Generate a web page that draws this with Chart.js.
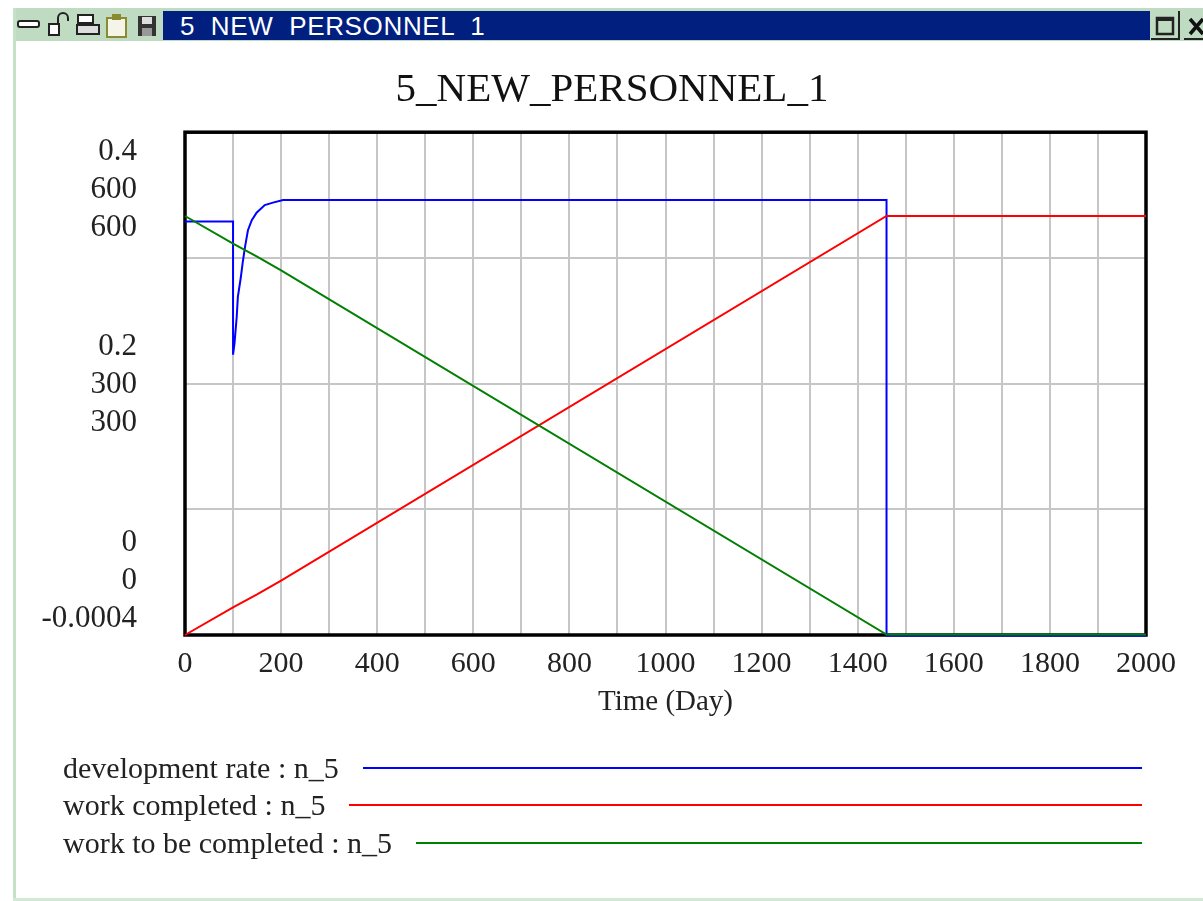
<!DOCTYPE html>
<html>
<head>
<meta charset="utf-8">
<title>5_NEW_PERSONNEL_1</title>
<script src="https://cdn.jsdelivr.net/npm/chart.js@4/dist/chart.umd.min.js"></script>
<style>
html, body { margin: 0; padding: 0; background: #fff; overflow: hidden; }
#janela { position: relative; width: 1203px; height: 901px; overflow: hidden; }
#faixa { position: absolute; left: 13px; top: 8px; width: 1190px; height: 33px; background: #bfdcc2; }
#bordaEsq { position: absolute; left: 13px; top: 8px; width: 3px; height: 893px; background: #c4e0c6; }
#bordaBaixo { position: absolute; left: 13px; top: 898px; width: 1190px; height: 3px; background: #d4e8d6; }
#barra { position: absolute; left: 163px; top: 11px; width: 987px; height: 29px; background: #001f7f; color: #fff;
  font: 26px "Liberation Sans", sans-serif; line-height: 31px; white-space: pre; text-indent: 17px; letter-spacing: 0.65px; }
#icones { position: absolute; left: 16px; top: 11px; }
.botao { position: absolute; top: 11px; height: 29px; background: #bfdcc2; border-right: 2px solid #222; border-bottom: 2px solid #222; box-sizing: border-box; }
canvas { position: absolute; left: 0; top: 0; }
#legenda { position: absolute; left: 63px; top: 749px; width: 1079px; font: 30px "Liberation Serif", serif; color: #222; }
.linha { display: flex; align-items: center; height: 37.5px; white-space: nowrap; }
.linha i { flex: 1; height: 2px; margin-left: 24px; }
</style>
</head>
<body>
<div id="janela">
  <canvas id="grafico" width="1203" height="901"></canvas>
  <div id="faixa"></div>
  <div id="bordaEsq"></div>
  <div id="bordaBaixo"></div>
  <svg id="icones" width="147" height="30" viewBox="0 0 147 30">
    <rect x="2" y="10" width="21" height="6" rx="2" fill="#fff" stroke="#222" stroke-width="2"/>
    <rect x="33" y="13" width="10" height="11" fill="#fff" stroke="#222" stroke-width="2"/>
    <path d="M42 13 V7 a5 5 0 0 1 10 0 V10" fill="none" stroke="#222" stroke-width="2"/>
    <rect x="62" y="4" width="15" height="8" fill="#fff" stroke="#222" stroke-width="2"/>
    <rect x="61" y="14" width="22" height="9" fill="#ddd" stroke="#222" stroke-width="2"/>
    <rect x="91" y="7" width="19" height="19" fill="#f4f4e8" stroke="#8a8a30" stroke-width="2"/>
    <rect x="96" y="3" width="9" height="6" fill="#8a8a30"/>
    <rect x="122" y="5" width="18" height="20" fill="#333"/>
    <rect x="126" y="6" width="10" height="7" fill="#ddd"/>
    <rect x="126" y="17" width="10" height="8" fill="#999"/>
  </svg>
  <div id="barra">5  NEW  PERSONNEL  1</div>
  <div class="botao" style="left:1151px;width:29px">
    <svg width="27" height="27"><rect x="6" y="7" width="16" height="16" fill="none" stroke="#222" stroke-width="2.5"/><rect x="6" y="7" width="16" height="3" fill="#222"/></svg>
  </div>
  <div class="botao" style="left:1184px;width:29px">
    <svg width="27" height="27"><path d="M6 8 L19 23 M19 8 L6 23" stroke="#111" stroke-width="3.5"/></svg>
  </div>
  <div id="legenda"></div>
</div>

<script>
// Dados
const tempoTaxa = [0, 100, 100, 103, 107.6, 110, 116, 120, 125, 131, 139, 149, 166, 183, 204, 1460, 1460, 2000];
const taxaDesenvolvimento = [0.329, 0.329, 0.223, 0.232, 0.253, 0.269, 0.284, 0.296, 0.309, 0.322, 0.330, 0.336, 0.342, 0.344, 0.346, 0.346, -0.0004, -0.0004];
const tempoTrabalho = [0, 100, 150, 200, 1460, 2000];
const trabalhoCompleto = [0, 33, 48.5, 65, 500, 500];
const trabalhoRestante = [500, 467, 451.5, 435, 0.5, 0.5];

const rotulosY = ['0.4', '600', '600', '0.2', '300', '300', '0', '0', '-0.0004'];
const nomesSeries = ['development rate : n_5', 'work completed : n_5', 'work to be completed : n_5'];

const tituloGrafico = '5_NEW_PERSONNEL_1';
const tituloEixoX = 'Time (Day)';

// Altura de cada linha de rótulo no eixo (fração da área do gráfico)
const posicoesRotulosY = [0.96, 0.885, 0.809, 0.573, 0.497, 0.421, 0.183, 0.107, 0.032];

const FONTE = '"Liberation Serif", serif';
const COR_GRADE = '#c6c6c6';

function montarPontos(xs, ys) {
    return xs.map((x, i) => ({ x: x, y: ys[i] }));
}

// Moldura preta em volta da área do gráfico
const molduraPlugin = {
    id: 'moldura',
    afterLayout(chart) {
        // o título original fica centrado um pouco à esquerda do gráfico
        chart.titleBlock.left = 78;
    },
    beforeDatasetsDraw(chart) {
        const { ctx, chartArea: a } = chart;
        ctx.save();
        ctx.strokeStyle = '#000';
        ctx.lineWidth = 3.5;
        ctx.strokeRect(a.left, a.top, a.right - a.left, a.bottom - a.top);
        ctx.restore();
    }
};

const grafico = new Chart(document.getElementById('grafico').getContext('2d'), {
    type: 'line',
    data: {
        datasets: [
            { label: nomesSeries[0], data: montarPontos(tempoTaxa, taxaDesenvolvimento), borderColor: '#0000ff', yAxisID: 'yTaxa', order: 3 },
            { label: nomesSeries[1], data: montarPontos(tempoTrabalho, trabalhoCompleto), borderColor: '#ff0000', yAxisID: 'yTrabalho', order: 2 },
            { label: nomesSeries[2], data: montarPontos(tempoTrabalho, trabalhoRestante), borderColor: '#008000', yAxisID: 'yTrabalho', order: 1 }
        ]
    },
    options: {
        responsive: false,
        animation: false,
        parsing: false,
        elements: { point: { radius: 0 }, line: { borderWidth: 2, tension: 0 } },
        clip: false,
        layout: { padding: { left: 0, right: 57, top: 0, bottom: 181 } },
        plugins: {
            legend: { display: false },
            tooltip: { enabled: false },
            title: {
                display: true,
                text: tituloGrafico,
                color: '#111',
                font: { family: FONTE, size: 41, weight: 'normal' },
                padding: { top: 66, bottom: 17 }
            }
        },
        scales: {
            x: {
                type: 'linear',
                min: 0,
                max: 2000,
                grid: { color: COR_GRADE, lineWidth: 2, drawTicks: false },
                border: { display: false },
                ticks: {
                    stepSize: 100,
                    autoSkip: false,
                    maxRotation: 0,
                    padding: 11,
                    color: '#222',
                    font: { family: FONTE, size: 30 },
                    callback: v => (v % 200 === 0 ? String(v) : '')
                },
                title: {
                    display: true,
                    text: tituloEixoX,
                    color: '#222',
                    font: { family: FONTE, size: 29 },
                    padding: { top: 0, bottom: 0 }
                },
                afterFit(escala) { escala.height = 85; }
            },
            // eixo só com os rótulos de texto
            yRotulos: {
                type: 'linear',
                position: 'left',
                min: 0,
                max: 1,
                grid: { display: false },
                border: { display: false },
                afterBuildTicks(escala) {
                    escala.ticks = posicoesRotulosY.map(v => ({ value: v }));
                },
                ticks: {
                    autoSkip: false,
                    padding: 40,
                    color: '#222',
                    font: { family: FONTE, size: 31 },
                    callback: (v, i) => rotulosY[i]
                },
                afterFit(escala) { escala.width = 185; }
            },
            yTrabalho: {
                type: 'linear',
                position: 'left',
                min: 0,
                max: 600,
                grid: { color: COR_GRADE, lineWidth: 2, drawTicks: false },
                border: { display: false },
                ticks: { display: false, stepSize: 150 },
                afterFit(escala) { escala.width = 0; }
            },
            yTaxa: {
                type: 'linear',
                display: false,
                min: 0,
                max: 0.4
            }
        }
    },
    plugins: [molduraPlugin]
});

// Legenda em HTML: nome da série seguido da linha até a margem
const divLegenda = document.getElementById('legenda');
grafico.data.datasets.forEach(ds => {
    const linha = document.createElement('div');
    linha.className = 'linha';
    linha.textContent = ds.label;
    const traco = document.createElement('i');
    traco.style.background = ds.borderColor;
    linha.appendChild(traco);
    divLegenda.appendChild(linha);
});
</script>
</body>
</html>
